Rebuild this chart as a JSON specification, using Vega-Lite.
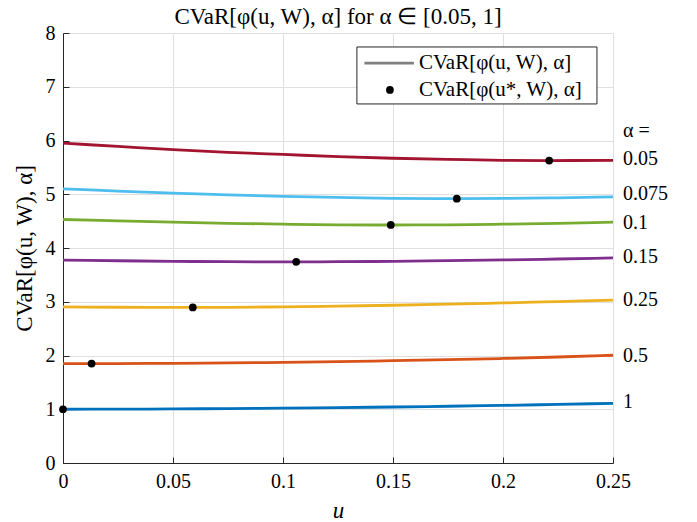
{
  "$schema": "https://vega.github.io/schema/vega-lite/v6.json",
  "width": 550,
  "height": 430,
  "autosize": {"type": "none"},
  "padding": {"left": 63, "top": 33, "right": 84, "bottom": 59},
  "background": "white",
  "title": {
    "text": "CVaR[φ(u, W), α] for α ∈ [0.05, 1]",
    "font": "Liberation Serif",
    "fontSize": 23,
    "fontWeight": "normal",
    "color": "#000000",
    "offset": -6
  },
  "config": {
    "view": {"stroke": null},
    "axis": {
      "labelFont": "Liberation Serif",
      "labelFontSize": 20,
      "labelColor": "#000000",
      "titleFont": "Liberation Serif",
      "titleFontSize": 23,
      "titleFontWeight": "normal",
      "titleColor": "#000000",
      "domainColor": "#262626",
      "tickColor": "#262626",
      "gridColor": "#dfdfdf",
      "tickSize": -6,
      "domainWidth": 1
    }
  },
  "datasets": {
    "curves": [
      {"alpha": "0.05", "u": 0, "cvar": 5.95}, {"alpha": "0.05", "u": 0.025, "cvar": 5.89}, {"alpha": "0.05", "u": 0.05, "cvar": 5.83}, {"alpha": "0.05", "u": 0.075, "cvar": 5.78}, {"alpha": "0.05", "u": 0.1, "cvar": 5.74}, {"alpha": "0.05", "u": 0.125, "cvar": 5.70}, {"alpha": "0.05", "u": 0.15, "cvar": 5.67}, {"alpha": "0.05", "u": 0.175, "cvar": 5.65}, {"alpha": "0.05", "u": 0.2, "cvar": 5.632}, {"alpha": "0.05", "u": 0.221, "cvar": 5.627}, {"alpha": "0.05", "u": 0.25, "cvar": 5.632},
      {"alpha": "0.075", "u": 0, "cvar": 5.10}, {"alpha": "0.075", "u": 0.025, "cvar": 5.06}, {"alpha": "0.075", "u": 0.05, "cvar": 5.02}, {"alpha": "0.075", "u": 0.075, "cvar": 4.99}, {"alpha": "0.075", "u": 0.1, "cvar": 4.96}, {"alpha": "0.075", "u": 0.125, "cvar": 4.94}, {"alpha": "0.075", "u": 0.15, "cvar": 4.925}, {"alpha": "0.075", "u": 0.179, "cvar": 4.918}, {"alpha": "0.075", "u": 0.2, "cvar": 4.922}, {"alpha": "0.075", "u": 0.225, "cvar": 4.933}, {"alpha": "0.075", "u": 0.25, "cvar": 4.95},
      {"alpha": "0.1", "u": 0, "cvar": 4.53}, {"alpha": "0.1", "u": 0.025, "cvar": 4.505}, {"alpha": "0.1", "u": 0.05, "cvar": 4.48}, {"alpha": "0.1", "u": 0.075, "cvar": 4.46}, {"alpha": "0.1", "u": 0.1, "cvar": 4.443}, {"alpha": "0.1", "u": 0.125, "cvar": 4.432}, {"alpha": "0.1", "u": 0.149, "cvar": 4.428}, {"alpha": "0.1", "u": 0.175, "cvar": 4.432}, {"alpha": "0.1", "u": 0.2, "cvar": 4.443}, {"alpha": "0.1", "u": 0.225, "cvar": 4.46}, {"alpha": "0.1", "u": 0.25, "cvar": 4.48},
      {"alpha": "0.15", "u": 0, "cvar": 3.775}, {"alpha": "0.15", "u": 0.025, "cvar": 3.763}, {"alpha": "0.15", "u": 0.05, "cvar": 3.752}, {"alpha": "0.15", "u": 0.075, "cvar": 3.745}, {"alpha": "0.15", "u": 0.106, "cvar": 3.742}, {"alpha": "0.15", "u": 0.125, "cvar": 3.745}, {"alpha": "0.15", "u": 0.15, "cvar": 3.752}, {"alpha": "0.15", "u": 0.175, "cvar": 3.764}, {"alpha": "0.15", "u": 0.2, "cvar": 3.778}, {"alpha": "0.15", "u": 0.225, "cvar": 3.795}, {"alpha": "0.15", "u": 0.25, "cvar": 3.815},
      {"alpha": "0.25", "u": 0, "cvar": 2.905}, {"alpha": "0.25", "u": 0.025, "cvar": 2.898}, {"alpha": "0.25", "u": 0.059, "cvar": 2.895}, {"alpha": "0.25", "u": 0.075, "cvar": 2.897}, {"alpha": "0.25", "u": 0.1, "cvar": 2.905}, {"alpha": "0.25", "u": 0.125, "cvar": 2.918}, {"alpha": "0.25", "u": 0.15, "cvar": 2.935}, {"alpha": "0.25", "u": 0.175, "cvar": 2.955}, {"alpha": "0.25", "u": 0.2, "cvar": 2.978}, {"alpha": "0.25", "u": 0.225, "cvar": 3.003}, {"alpha": "0.25", "u": 0.25, "cvar": 3.03},
      {"alpha": "0.5", "u": 0, "cvar": 1.85}, {"alpha": "0.5", "u": 0.013, "cvar": 1.849}, {"alpha": "0.5", "u": 0.025, "cvar": 1.85}, {"alpha": "0.5", "u": 0.05, "cvar": 1.855}, {"alpha": "0.5", "u": 0.075, "cvar": 1.862}, {"alpha": "0.5", "u": 0.1, "cvar": 1.872}, {"alpha": "0.5", "u": 0.125, "cvar": 1.886}, {"alpha": "0.5", "u": 0.15, "cvar": 1.903}, {"alpha": "0.5", "u": 0.175, "cvar": 1.922}, {"alpha": "0.5", "u": 0.2, "cvar": 1.945}, {"alpha": "0.5", "u": 0.225, "cvar": 1.972}, {"alpha": "0.5", "u": 0.25, "cvar": 2.005},
      {"alpha": "1", "u": 0, "cvar": 1.0}, {"alpha": "1", "u": 0.025, "cvar": 1.002}, {"alpha": "1", "u": 0.05, "cvar": 1.006}, {"alpha": "1", "u": 0.075, "cvar": 1.012}, {"alpha": "1", "u": 0.1, "cvar": 1.02}, {"alpha": "1", "u": 0.125, "cvar": 1.03}, {"alpha": "1", "u": 0.15, "cvar": 1.042}, {"alpha": "1", "u": 0.175, "cvar": 1.056}, {"alpha": "1", "u": 0.2, "cvar": 1.072}, {"alpha": "1", "u": 0.225, "cvar": 1.09}, {"alpha": "1", "u": 0.25, "cvar": 1.11}
    ],
    "optimum": [
      {"alpha": "0.05", "u": 0.221, "cvar": 5.627},
      {"alpha": "0.075", "u": 0.179, "cvar": 4.918},
      {"alpha": "0.1", "u": 0.149, "cvar": 4.428},
      {"alpha": "0.15", "u": 0.106, "cvar": 3.742},
      {"alpha": "0.25", "u": 0.059, "cvar": 2.895},
      {"alpha": "0.5", "u": 0.013, "cvar": 1.849},
      {"alpha": "1", "u": 0, "cvar": 1.0}
    ],
    "labels": [
      {"label": "α =", "u": 0.2545, "cvar": 6.18},
      {"label": "0.05", "u": 0.2545, "cvar": 5.65},
      {"label": "0.075", "u": 0.2545, "cvar": 5.0},
      {"label": "0.1", "u": 0.2545, "cvar": 4.46},
      {"label": "0.15", "u": 0.2545, "cvar": 3.83},
      {"label": "0.25", "u": 0.2545, "cvar": 3.03},
      {"label": "0.5", "u": 0.2545, "cvar": 2.0},
      {"label": "1", "u": 0.2545, "cvar": 1.13}
    ],
    "legendbox": [{"u1": 0.1336, "u2": 0.2427, "c1": 6.68, "c2": 7.74}],
    "legendline": [{"u": 0.137, "cvar": 7.44}, {"u": 0.1595, "cvar": 7.44}],
    "legenddot": [{"u": 0.1486, "cvar": 6.94}],
    "legendtext": [
      {"label": "CVaR[φ(u, W), α]", "u": 0.1618, "cvar": 7.44},
      {"label": "CVaR[φ(u*, W), α]", "u": 0.1618, "cvar": 6.94}
    ]
  },
  "layer": [
    {
      "data": {"name": "curves"},
      "mark": {"type": "line", "strokeWidth": 2.8, "interpolate": "monotone", "clip": true},
      "encoding": {
        "x": {
          "field": "u", "type": "quantitative",
          "scale": {"domain": [0, 0.25], "nice": false, "zero": false},
          "axis": {"values": [0, 0.05, 0.1, 0.15, 0.2, 0.25], "format": ".2~f", "title": "u", "titleFontStyle": "italic", "labelPadding": 14, "titlePadding": 8, "grid": true, "labelFlush": false}
        },
        "y": {
          "field": "cvar", "type": "quantitative",
          "scale": {"domain": [0, 8], "nice": false},
          "axis": {"values": [0, 1, 2, 3, 4, 5, 6, 7, 8], "format": "d", "title": "CVaR[φ(u, W), α]", "labelPadding": 14, "titlePadding": 9, "grid": true, "labelFlush": false}
        },
        "color": {
          "field": "alpha", "type": "nominal",
          "scale": {"domain": ["1", "0.5", "0.25", "0.15", "0.1", "0.075", "0.05"], "range": ["#0072BD", "#D95319", "#EDB120", "#7E2F8E", "#77AC30", "#4DBEEE", "#A2142F"]},
          "legend": null
        },
        "detail": {"field": "alpha"}
      }
    },
    {
      "data": {"name": "optimum"},
      "mark": {"type": "point", "filled": true, "color": "#000000", "opacity": 1, "size": 60, "clip": false},
      "encoding": {
        "x": {"field": "u", "type": "quantitative"},
        "y": {"field": "cvar", "type": "quantitative"}
      }
    },
    {
      "data": {"name": "labels"},
      "mark": {"type": "text", "align": "left", "baseline": "middle", "font": "Liberation Serif", "fontSize": 20, "color": "#000000"},
      "encoding": {
        "x": {"field": "u", "type": "quantitative"},
        "y": {"field": "cvar", "type": "quantitative"},
        "text": {"field": "label"}
      }
    },
    {
      "data": {"name": "legendbox"},
      "mark": {"type": "rect", "fill": "#ffffff", "stroke": "#262626", "strokeWidth": 1},
      "encoding": {
        "x": {"field": "u1", "type": "quantitative"},
        "x2": {"field": "u2"},
        "y": {"field": "c1", "type": "quantitative"},
        "y2": {"field": "c2"}
      }
    },
    {
      "data": {"name": "legendline"},
      "mark": {"type": "line", "strokeWidth": 2.8, "color": "#808080"},
      "encoding": {
        "x": {"field": "u", "type": "quantitative"},
        "y": {"field": "cvar", "type": "quantitative"}
      }
    },
    {
      "data": {"name": "legenddot"},
      "mark": {"type": "point", "filled": true, "color": "#000000", "opacity": 1, "size": 60},
      "encoding": {
        "x": {"field": "u", "type": "quantitative"},
        "y": {"field": "cvar", "type": "quantitative"}
      }
    },
    {
      "data": {"name": "legendtext"},
      "mark": {"type": "text", "align": "left", "baseline": "middle", "font": "Liberation Serif", "fontSize": 21, "color": "#000000"},
      "encoding": {
        "x": {"field": "u", "type": "quantitative"},
        "y": {"field": "cvar", "type": "quantitative"},
        "text": {"field": "label"}
      }
    }
  ]
}
